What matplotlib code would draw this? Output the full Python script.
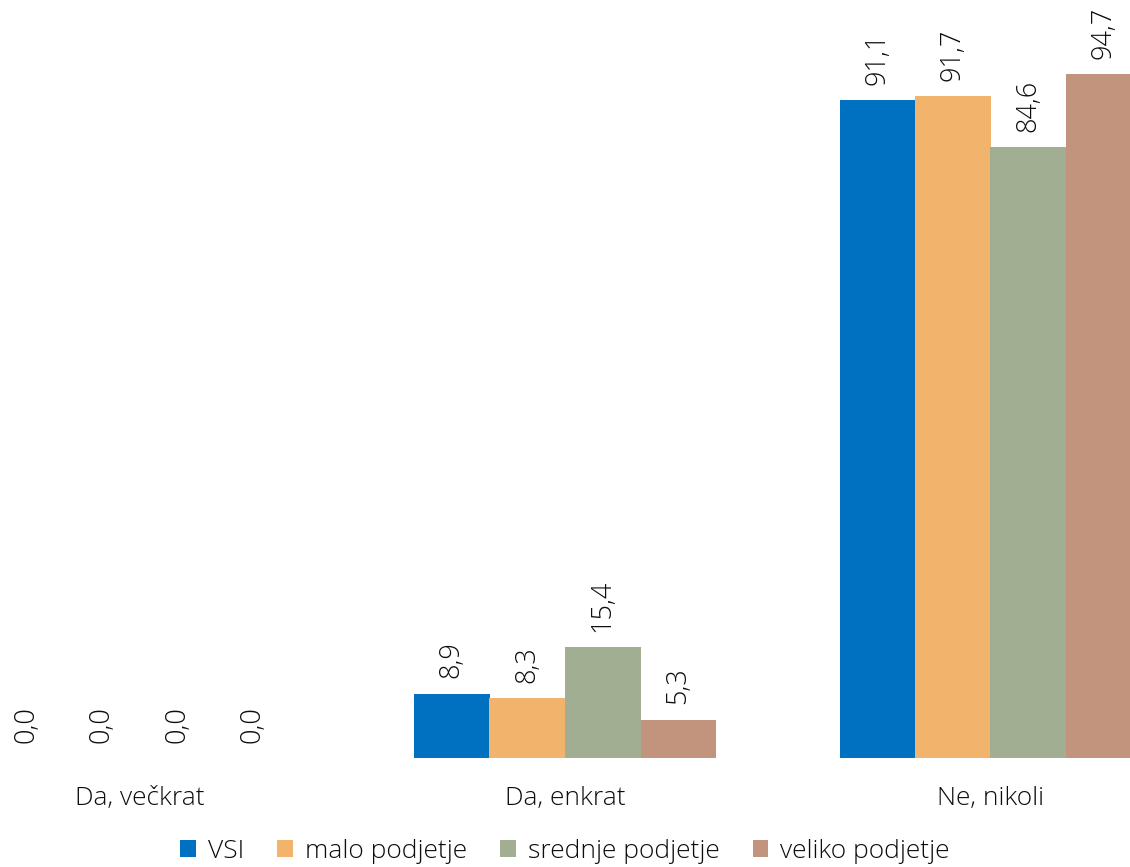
import matplotlib
matplotlib.use("Agg")
import matplotlib.pyplot as plt
import numpy as np

categories = ["Da, večkrat", "Da, enkrat", "Ne, nikoli"]
series_names = ["VSI", "malo podjetje", "srednje podjetje", "veliko podjetje"]
values = {
    "VSI": [0.0, 8.9, 91.1],
    "malo podjetje": [0.0, 8.3, 91.7],
    "srednje podjetje": [0.0, 15.4, 84.6],
    "veliko podjetje": [0.0, 5.3, 94.7],
}
colors = ["#0070C0", "#F2B46D", "#A2AE92", "#C2947E"]

plt.rcParams["font.family"] = ["Open Sans", "DejaVu Sans"]

W, H = 1130, 867
fig = plt.figure(figsize=(W / 100, H / 100), dpi=100)
ax = fig.add_axes([0, (H - 758) / H, 1, 758 / H])

step = 425.5      # pixels between category centres
c0 = 565 - step   # pixel centre of the first category
x = np.arange(len(categories))
bar_w = 75.5 / step
text_color = "#0d0d0d"
for i, name in enumerate(series_names):
    pos = x + (i - 1.5) * bar_w
    ax.bar(pos, values[name], width=bar_w, color=colors[i], label=name)
    for xp, v in zip(pos, values[name]):
        ax.annotate(f"{v:.1f}".replace(".", ","), (xp, v), xytext=(0, 11),
                    textcoords="offset points", rotation=90, ha="center",
                    va="bottom", fontsize=19.5, fontweight="light",
                    color=text_color)

ax.set_xlim(-c0 / step, (W - c0) / step)
ax.set_ylim(0, 105)
ax.set_xticks(x)
ax.set_xticklabels(categories, fontsize=19, fontweight="light", color=text_color)
ax.tick_params(axis="x", length=0, pad=20)
ax.set_yticks([])
for s in ax.spines.values():
    s.set_visible(False)

leg = fig.legend(loc="center", bbox_to_anchor=(565 / W, 1 - 851 / H), ncol=4,
                 frameon=False, handlelength=0.6, handleheight=0.6,
                 handletextpad=0.45, columnspacing=1.25,
                 prop={"size": 19, "weight": "light"})
for t in leg.get_texts():
    t.set_color(text_color)

fig.savefig("out.png", dpi=100)
